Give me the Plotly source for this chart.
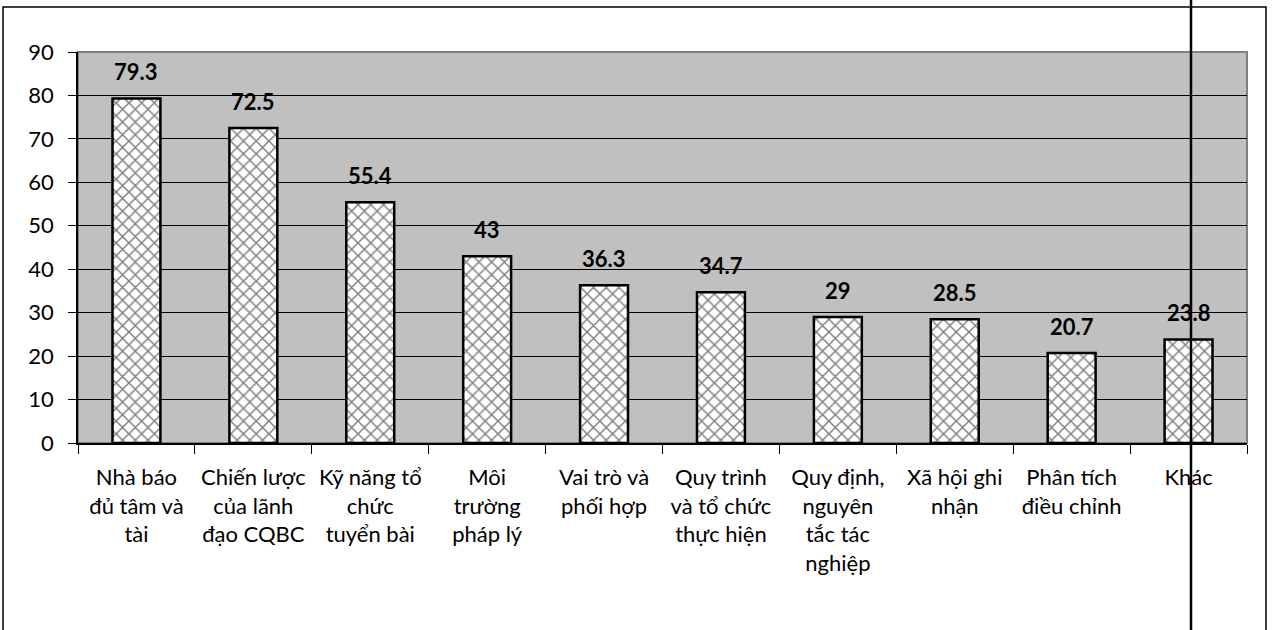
import plotly.graph_objects as go

categories = [
    "Nhà báo<br>đủ tâm và<br>tài",
    "Chiến lược<br>của lãnh<br>đạo CQBC",
    "Kỹ năng tổ<br>chức<br>tuyển bài",
    "Môi<br>trường<br>pháp lý",
    "Vai trò và<br>phối hợp",
    "Quy trình<br>và tổ chức<br>thực hiện",
    "Quy định,<br>nguyên<br>tắc tác<br>nghiệp",
    "Xã hội ghi<br>nhận",
    "Phân tích<br>điều chỉnh",
    "Khác",
]
values = [79.3, 72.5, 55.4, 43, 36.3, 34.7, 29, 28.5, 20.7, 23.8]
value_labels = ["79.3", "72.5", "55.4", "43", "36.3", "34.7", "29", "28.5", "20.7", "23.8"]
y_ticks = [0, 10, 20, 30, 40, 50, 60, 70, 80, 90]

FONT = "Lato, 'Noto Sans', sans-serif"

fig = go.Figure()
fig.add_trace(go.Bar(
    x=categories,
    y=values,
    width=0.41,
    marker=dict(
        color="white",
        line=dict(color="black", width=2.5),
        pattern=dict(shape="x", fgcolor="black", bgcolor="white", size=9, solidity=0.3),
    ),
    hoverinfo="x+y",
))

for c, v, t in zip(categories, values, value_labels):
    fig.add_annotation(x=c, y=v, text="<b>%s</b>" % t, showarrow=False,
                       yanchor="middle", yshift=27,
                       font=dict(family=FONT, size=22, color="black"))

L, R, T, B = 78, 1247, 52, 443
W, H = 1272, 630
pw, ph = R - L, B - T

def px_x(p):
    return (p - L) / pw

def px_y(p):
    return (B - p) / ph

shapes = [
    # plot area border
    dict(type="rect", xref="paper", yref="paper", x0=0, x1=1, y0=0, y1=1,
         line=dict(color="#808080", width=2), layer="below"),
    # outer frame
    dict(type="rect", xref="paper", yref="paper", x0=px_x(3), x1=px_x(1266),
         y0=px_y(660), y1=px_y(7), line=dict(color="black", width=1.5)),
    # vertical line
    dict(type="line", xref="paper", yref="paper", x0=px_x(1191), x1=px_x(1191),
         y0=px_y(660), y1=px_y(-20), line=dict(color="black", width=2.5)),
]

fig.update_layout(
    width=W, height=H,
    margin=dict(l=L, r=W - R, t=T, b=H - B),
    paper_bgcolor="white",
    plot_bgcolor="#C0C0C0",
    showlegend=False,
    font=dict(family=FONT, size=22, color="black"),
    shapes=shapes,
)
fig.update_xaxes(
    showline=True, linecolor="black", linewidth=1.5,
    ticks="outside", ticklen=9, tickcolor="black", tickson="boundaries",
    tickangle=0, showgrid=False, ticklabelstandoff=14,
    tickfont=dict(family=FONT, size=22, color="black"),
)
fig.update_yaxes(
    range=[0, 90], tickvals=y_ticks,
    showline=True, linecolor="black", linewidth=1.5,
    ticks="outside", ticklen=8, tickcolor="black",
    showgrid=True, gridcolor="black", gridwidth=1,
    zeroline=False, ticklabelstandoff=10,
    tickfont=dict(family=FONT, size=22, color="black"),
)

fig.write_html("out.html", config={"displayModeBar": False},
               post_script="document.body.style.margin='0';")
